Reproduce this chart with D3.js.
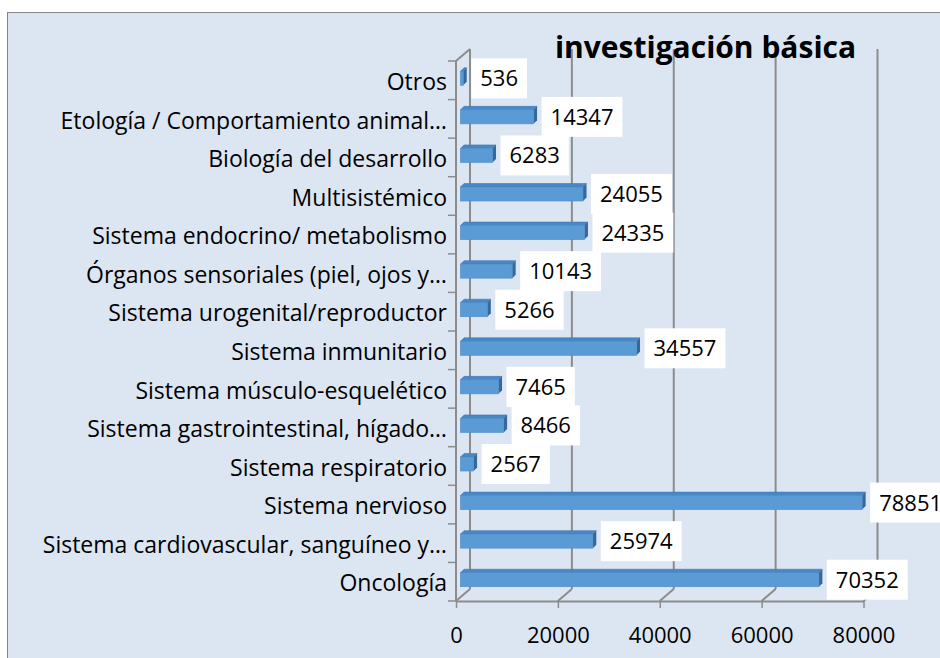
<!DOCTYPE html>
<html>
<head>
<meta charset="utf-8">
<script src="https://cdn.jsdelivr.net/npm/d3@7"></script>
<style>
  body { margin: 0; background: #fff; }
  svg { display: block; }
  text { font-family: "Open Sans", sans-serif; }
</style>
</head>
<body>
<div id="chart"></div>
<script>
// data, top to bottom as in the chart
var categories = [
  "Otros",
  "Etología / Comportamiento animal…",
  "Biología del desarrollo",
  "Multisistémico",
  "Sistema endocrino/ metabolismo ",
  "Órganos sensoriales (piel, ojos y…",
  "Sistema urogenital/reproductor",
  "Sistema inmunitario",
  "Sistema músculo-esquelético",
  "Sistema gastrointestinal, hígado…",
  "Sistema respiratorio",
  "Sistema nervioso",
  "Sistema cardiovascular, sanguíneo y…",
  "Oncología"
];
var values = [536, 14347, 6283, 24055, 24335, 10143, 5266, 34557, 7465, 8466, 2567, 78851, 25974, 70352];
var xTicks = [0, 20000, 40000, 60000, 80000];
var title = "investigación básica";

var W = 940, H = 658;
var dx = 14, dy = -12;          // depth of the 3d box
var grid = "#8c8c8c";

var svg = d3.select("#chart").append("svg")
    .attr("width", W)
    .attr("height", H);

// panel
svg.append("rect")
    .attr("x", 7.5).attr("y", 12.5)
    .attr("width", W).attr("height", H)
    .attr("fill", "#dce6f2")
    .attr("stroke", "#868686");

var x = d3.scaleLinear().domain([0, 80000]).range([456, 863.5]);
var y = d3.scaleBand().domain(categories).range([61, 601]);

var yTop = y.range()[0], yBot = y.range()[1];

// back gridlines
svg.append("g").selectAll("line")
    .data(xTicks)
    .join("line")
    .attr("x1", d => x(d) + dx).attr("x2", d => x(d) + dx)
    .attr("y1", yTop + dy).attr("y2", yBot + dy)
    .attr("stroke", grid).attr("stroke-width", 2);

// floor diagonals
svg.append("g").selectAll("line")
    .data(xTicks)
    .join("line")
    .attr("x1", d => x(d)).attr("x2", d => x(d) + dx)
    .attr("y1", yBot).attr("y2", yBot + dy)
    .attr("stroke", grid).attr("stroke-width", 2);

// left wall: front axis line, top diagonal, ticks at band edges
var edges = categories.map(c => y(c)).concat([yBot]);
var left = svg.append("g");
left.append("line")
    .attr("x1", x(0)).attr("x2", x(0))
    .attr("y1", yTop).attr("y2", yBot)
    .attr("stroke", grid).attr("stroke-width", 2);
left.append("line")
    .attr("x1", x(0)).attr("x2", x(0) + dx)
    .attr("y1", yTop).attr("y2", yTop + dy)
    .attr("stroke", grid).attr("stroke-width", 2);
left.selectAll(".tk")
    .data(edges)
    .join("line")
    .attr("class", "tk")
    .attr("x1", x(0) - 8).attr("x2", x(0))
    .attr("y1", d => d).attr("y2", d => d)
    .attr("stroke", grid).attr("stroke-width", 1.5);

// category labels
var yAxis = d3.axisLeft(y).tickSize(0).tickPadding(9);
var gy = svg.append("g")
    .attr("transform", "translate(" + x(0) + ",0)")
    .call(yAxis);
gy.select(".domain").remove();
gy.selectAll("text")
    .attr("font-size", 23)
    .attr("font-family", "'Open Sans', sans-serif")
    .attr("fill", "#000")
    .attr("dy", "0.42em")
    .attr("x", -9);

// bottom axis
var xAxis = d3.axisBottom(x)
    .tickValues(xTicks)
    .tickFormat(d3.format("d"))
    .tickSize(7)
    .tickSizeOuter(0)
    .tickPadding(19);
var gx = svg.append("g")
    .attr("transform", "translate(0," + yBot + ")")
    .call(xAxis);
gx.select(".domain").attr("stroke", grid).attr("stroke-width", 2);
gx.selectAll(".tick line").attr("stroke", grid).attr("stroke-width", 1.5);
gx.selectAll("text")
    .attr("font-size", 22)
    .attr("font-family", "'Open Sans', sans-serif")
    .attr("fill", "#000");

// 3d bars
var bx = 4.5;      // bar sits a bit into the depth
var bh = 14, bd = 3.5;
var rows = categories.map((c, i) => ({ c: c, v: values[i] }));

var bars = svg.append("g").selectAll("g")
    .data(rows)
    .join("g");

function x0() { return x(0) + bx; }
function x1(d) { return x(d.v) + bx; }
function y0(d) { return y(d.c) + 10.3; }

// top face
bars.append("path")
    .attr("d", d => {
        var a = x0(), b = x1(d), t = y0(d);
        return "M" + a + "," + t + "L" + (a + bd) + "," + (t - bd) +
            "L" + (b + bd) + "," + (t - bd) + "L" + b + "," + t + "Z";
    })
    .attr("fill", "#4a87c6")
    .attr("stroke", "#3f76b0").attr("stroke-width", 0.6);
// side face
bars.append("path")
    .attr("d", d => {
        var b = x1(d), t = y0(d);
        return "M" + b + "," + t + "L" + (b + bd) + "," + (t - bd) +
            "L" + (b + bd) + "," + (t + bh - bd) + "L" + b + "," + (t + bh) + "Z";
    })
    .attr("fill", "#35689b");
// front face
bars.append("rect")
    .attr("x", x0)
    .attr("y", y0)
    .attr("width", d => x1(d) - x0())
    .attr("height", bh)
    .attr("fill", "#5b9bd5")
    .attr("stroke", "#4d8bc8").attr("stroke-width", 0.6);

// value labels in white boxes
var labels = svg.append("g").selectAll("g")
    .data(rows)
    .join("g")
    .attr("transform", d => "translate(" + (x1(d) + bd + 4.5) + "," + (y0(d) + bh / 2) + ")");

var boxes = labels.append("rect").attr("fill", "#fff");
labels.append("text")
    .attr("x", 9)
    .attr("dy", "0.36em")
    .attr("font-size", 22)
    .attr("fill", "#000")
    .text(d => d.v);
labels.each(function () {
    var g = d3.select(this);
    var w = g.select("text").node().getComputedTextLength();
    g.select("rect")
        .attr("x", 0).attr("y", -20)
        .attr("width", w + 18).attr("height", 40);
});

// title
svg.append("text")
    .attr("x", 705.5)
    .attr("y", 58)
    .attr("text-anchor", "middle")
    .attr("font-size", 30)
    .attr("font-weight", "bold")
    .attr("fill", "#000")
    .text(title);
</script>
</body>
</html>
